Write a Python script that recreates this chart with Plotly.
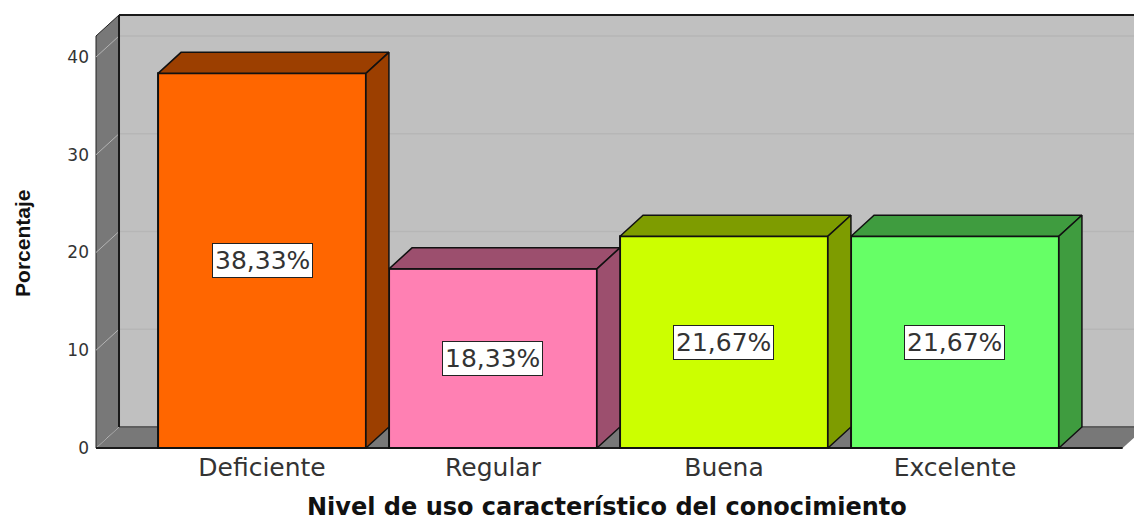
import plotly.graph_objects as go

categorias = ["Deficiente", "Regular", "Buena", "Excelente"]
porcentajes = [38.33, 18.33, 21.67, 21.67]
color_frente = ["#ff6600", "#ff80b3", "#ccff00", "#66ff66"]
color_lado = ["#9c3f00", "#9c4f6e", "#7e9c00", "#3f9c3f"]
ticks_y = [0, 10, 20, 30, 40]

# profundidad del efecto 3D, en unidades de los ejes
DX = 23 / 231
DY = 21 / 9.775
ANCHO = 0.9
X_PARED = -0.7186   # borde izquierdo del piso
X_FIN = 3.726       # borde derecho del piso
Y_TECHO = 42.15
X_RANGO = [-0.7446, 3.775]
Y_RANGO = [-0.2046, 44.81]


def poligono(puntos):
    return "M " + " L ".join(f"{x} {y}" for x, y in puntos) + " Z"


shapes = []

# pared del fondo
shapes.append(dict(type="path", layer="below", fillcolor="#c0c0c0", line=dict(width=0),
                   path=poligono([(X_PARED + DX, DY), (X_FIN + DX, DY),
                                  (X_FIN + DX, Y_TECHO + DY), (X_PARED + DX, Y_TECHO + DY)])))
# pared lateral
shapes.append(dict(type="path", layer="below", fillcolor="#787878", line=dict(color="#222222", width=1),
                   path=poligono([(X_PARED, 0), (X_PARED + DX, DY),
                                  (X_PARED + DX, Y_TECHO + DY), (X_PARED, Y_TECHO)])))
# piso
shapes.append(dict(type="path", layer="below", fillcolor="#787878", line=dict(width=0),
                   path=poligono([(X_PARED, 0), (X_FIN, 0), (X_FIN + DX, DY), (X_PARED + DX, DY)])))

# grilla
for v in ticks_y[1:]:
    shapes.append(dict(type="line", layer="below", x0=X_PARED + DX, x1=X_FIN + DX, y0=v + DY, y1=v + DY,
                       line=dict(color="#b6b6b6", width=1.5)))
for v in ticks_y:
    shapes.append(dict(type="line", layer="below", x0=X_PARED, x1=X_PARED + DX, y0=v, y1=v + DY,
                       line=dict(color="#b4b4b4", width=1)))

# bordes
shapes.append(dict(type="line", layer="below", x0=X_PARED + DX, x1=X_FIN + DX, y0=DY, y1=DY,
                   line=dict(color="#5e5e5e", width=2)))
shapes.append(dict(type="line", layer="below", x0=X_PARED + DX, x1=X_PARED + DX, y0=DY, y1=Y_TECHO + DY,
                   line=dict(color="#1a1a1a", width=2)))
shapes.append(dict(type="line", layer="below", x0=X_PARED + DX, x1=X_FIN + DX, y0=Y_TECHO + DY, y1=Y_TECHO + DY,
                   line=dict(color="#1a1a1a", width=2)))
shapes.append(dict(type="line", layer="below", x0=X_PARED, x1=X_FIN, y0=0, y1=0,
                   line=dict(color="#1a1a1a", width=2)))

fig = go.Figure()

# cara frontal
fig.add_trace(go.Bar(
    x=list(range(len(categorias))), y=porcentajes, width=ANCHO,
    marker=dict(color=color_frente, line=dict(color="#111111", width=2)),
    hoverinfo="skip", showlegend=False
))

# cara superior y lateral
for i, v in enumerate(porcentajes):
    x0, x1 = i - ANCHO / 2, i + ANCHO / 2
    caras = [
        [(x0, v), (x0 + DX, v + DY), (x1 + DX, v + DY), (x1, v), (x0, v)],
        [(x1, 0), (x1 + DX, DY), (x1 + DX, v + DY), (x1, v), (x1, 0)],
    ]
    for cara in caras:
        fig.add_trace(go.Scatter(
            x=[p[0] for p in cara], y=[p[1] for p in cara],
            mode="lines", fill="toself", fillcolor=color_lado[i],
            line=dict(color="#111111", width=1.5),
            hoverinfo="skip", showlegend=False
        ))

# etiquetas
anotaciones = []
for i, v in enumerate(porcentajes):
    anotaciones.append(dict(
        x=i, y=v / 2, xref="x", yref="y", showarrow=False,
        text=f"{v:.2f}%".replace(".", ","),
        font=dict(family="DejaVu Sans", size=25, color="#333333"),
        bgcolor="#ffffff", bordercolor="#222222", borderwidth=1, borderpad=2
    ))

# titulos de los ejes
anotaciones.append(dict(
    x=0.4952, y=-0.1295, xref="paper", yref="paper", showarrow=False,
    xanchor="center", yanchor="middle", borderpad=0,
    text="<b>Nivel de uso característico del conocimiento</b>",
    font=dict(family="DejaVu Sans", size=24, color="#111111")
))
anotaciones.append(dict(
    x=-0.0642, y=0.4705, xref="paper", yref="paper", showarrow=False, textangle=-90,
    xanchor="center", yanchor="middle",
    text="<b>Porcentaje</b>",
    font=dict(family="Liberation Sans", size=21, color="#111111")
))

fig.update_layout(
    width=1134, height=521,
    margin=dict(l=90, r=0, t=10, b=71),
    paper_bgcolor="#ffffff", plot_bgcolor="#ffffff",
    shapes=shapes, annotations=anotaciones,
    xaxis=dict(
        range=X_RANGO, tickmode="array", tickvals=list(range(len(categorias))), ticktext=categorias,
        showgrid=False, zeroline=False, showline=False, ticks="",
        tickfont=dict(family="DejaVu Sans", size=25, color="#333333"),
    ),
    yaxis=dict(
        range=Y_RANGO, tickmode="array", tickvals=ticks_y,
        showgrid=False, zeroline=False, showline=False, ticks="",
        tickfont=dict(family="DejaVu Sans", size=17, color="#333333"),
    ),
)

# sin el margen del body la figura ocupa toda la ventana
fig.write_html("out.html", config=dict(displayModeBar=False),
               post_script="document.body.style.margin='0';document.body.style.overflow='hidden';")
